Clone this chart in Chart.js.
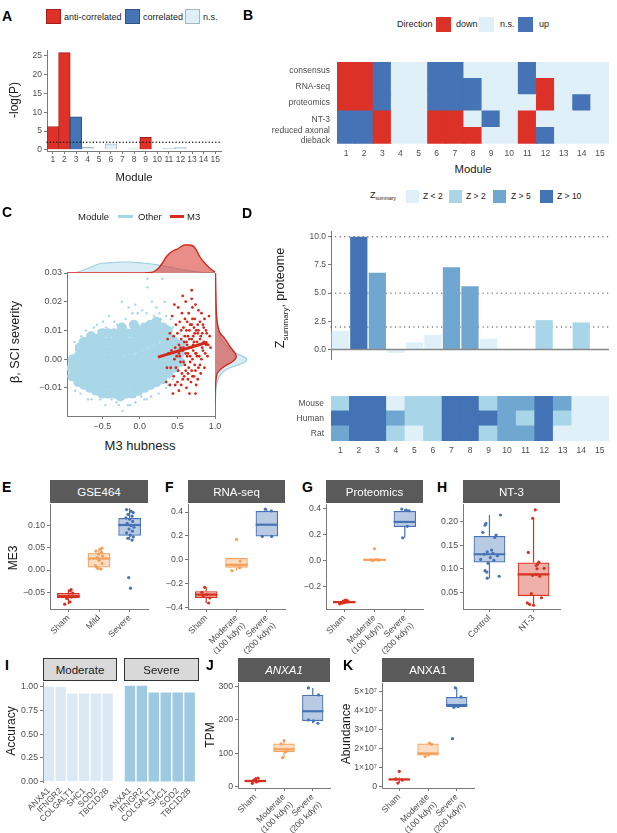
<!DOCTYPE html>
<html>
<head>
<meta charset="utf-8">
<script src="https://cdn.jsdelivr.net/npm/chart.js"></script>
<style>
body { margin: 0; background: #fff; }
#page { position: relative; width: 617px; height: 833px; overflow: hidden; font-family: 'Liberation Sans', Arial, sans-serif; }
#page canvas { position: absolute; }
.t { position: absolute; white-space: nowrap; line-height: 1; }
</style>
</head>
<body>
<div id="page"></div>
<script>
// ---------- data ----------
const modules = ['1','2','3','4','5','6','7','8','9','10','11','12','13','14','15'];

// A: -log(P) per module and direction of correlation
const aLogP = [6.2, 25.8, 8.8, 0.7, 0, 1.6, 0, 0.3, 3.3, 0, 0.5, 0.6, 0, 0, 0];
const aClass = ['anti','anti','corr','ns','ns','ns','ns','ns','anti','ns','ns','ns','ns','ns','ns'];
const aThreshold = 2;
const aTicks = [0, 5, 10, 15, 20, 25];

// B: direction heatmap
const bRowNames = ['consensus', 'RNA-seq', 'proteomics', 'NT-3', ['reduced axonal', 'dieback']];
const bConsensus  = ['down','down','up','ns','ns','up','up','ns','ns','ns','up','ns','ns','ns','ns'];
const bRnaSeq     = ['down','down','up','ns','ns','up','up','up','ns','ns','up','down','ns','ns','ns'];
const bProteomics = ['down','down','up','ns','ns','up','up','up','ns','ns','ns','down','ns','up','ns'];
const bNT3        = ['up','up','down','ns','ns','down','down','ns','up','ns','down','ns','ns','ns','ns'];
const bDieback    = ['up','up','down','ns','ns','down','down','down','ns','ns','down','up','ns','ns','ns'];

// C: M3 hubness vs beta (dense core of the "Other" cloud, its sparse edge, and M3 genes)
const cOtherCore = [
 [-0.90,-0.006],[-0.91,-0.003],[-0.89,0.000],
 [-0.82,-0.008],[-0.83,-0.005],[-0.81,-0.002],[-0.82,0.001],[-0.80,0.004],
 [-0.74,-0.009],[-0.75,-0.006],[-0.73,-0.003],[-0.74,0.000],[-0.72,0.003],[-0.75,0.006],
 [-0.66,-0.010],[-0.67,-0.007],[-0.65,-0.004],[-0.66,-0.001],[-0.64,0.002],[-0.67,0.005],[-0.65,0.008],
 [-0.58,-0.011],[-0.59,-0.008],[-0.57,-0.005],[-0.58,-0.002],[-0.56,0.001],[-0.59,0.004],[-0.57,0.007],
 [-0.50,-0.012],[-0.51,-0.009],[-0.49,-0.006],[-0.50,-0.003],[-0.48,0.000],[-0.51,0.003],[-0.49,0.006],[-0.50,0.009],
 [-0.42,-0.012],[-0.43,-0.009],[-0.41,-0.006],[-0.42,-0.003],[-0.40,0.000],[-0.43,0.003],[-0.41,0.006],[-0.42,0.009],
 [-0.34,-0.012],[-0.35,-0.009],[-0.33,-0.006],[-0.34,-0.003],[-0.32,0.000],[-0.35,0.003],[-0.33,0.006],[-0.34,0.009],
 [-0.26,-0.013],[-0.27,-0.010],[-0.25,-0.007],[-0.26,-0.004],[-0.24,-0.001],[-0.27,0.002],[-0.25,0.005],[-0.26,0.008],[-0.24,0.011],
 [-0.18,-0.012],[-0.19,-0.009],[-0.17,-0.006],[-0.18,-0.003],[-0.16,0.000],[-0.19,0.003],[-0.17,0.006],[-0.18,0.009],
 [-0.10,-0.012],[-0.11,-0.009],[-0.09,-0.006],[-0.10,-0.003],[-0.08,0.000],[-0.11,0.003],[-0.09,0.006],[-0.10,0.009],[-0.08,0.012],
 [-0.02,-0.011],[-0.03,-0.008],[-0.01,-0.005],[-0.02,-0.002],[0.00,0.001],[-0.03,0.004],[-0.01,0.007],[-0.02,0.010],
 [0.06,-0.010],[0.05,-0.007],[0.07,-0.004],[0.06,-0.001],[0.08,0.002],[0.05,0.005],[0.07,0.008],[0.06,0.011],
 [0.14,-0.009],[0.13,-0.006],[0.15,-0.003],[0.14,0.000],[0.16,0.003],[0.13,0.006],[0.15,0.009],[0.14,0.012],
 [0.22,-0.008],[0.21,-0.005],[0.23,-0.002],[0.22,0.001],[0.24,0.004],[0.21,0.007],[0.23,0.010],[0.22,0.013],
 [0.30,-0.007],[0.29,-0.004],[0.31,-0.001],[0.30,0.002],[0.32,0.005],[0.29,0.008],[0.31,0.011],
 [0.38,-0.005],[0.37,-0.002],[0.39,0.001],[0.38,0.004],[0.40,0.007],[0.37,0.010],
 [0.46,-0.003],[0.45,0.000],[0.47,0.003],[0.46,0.006],
 [0.54,-0.001],[0.53,0.002],[0.55,0.005]];
const cOtherHalo = [[-0.94,-0.001],[-0.93,-0.007],[-0.86,-0.011],[-0.87,0.006],[-0.78,0.008],[-0.79,-0.012],[-0.69,-0.014],
 [-0.72,0.010],[-0.64,-0.014],[-0.61,0.011],[-0.57,0.012],[-0.46,-0.016],[-0.49,0.013],[-0.41,0.015],[-0.31,-0.015],
 [-0.34,0.013],[-0.23,-0.018],[-0.24,0.020],[-0.28,-0.016],[-0.19,0.014],[-0.16,-0.016],[-0.13,-0.016],[-0.10,0.016],
 [-0.03,0.016],[-0.06,0.019],[-0.06,-0.015],[0.06,-0.014],[0.09,-0.014],[0.09,0.016],[0.10,0.025],[0.10,0.028],
 [0.22,0.018],[0.25,-0.012],[0.26,0.016],[0.30,0.028],[0.33,0.020],[0.35,0.015],[0.41,0.014],[0.44,0.011],[0.50,0.009],
 [0.58,0.008],[0.62,0.004],[0.66,0.007],[0.70,0.004],[0.72,0.009],[0.15,-0.013],[-0.38,-0.014],[0.03,0.017],
 [0.38,-0.009],[-0.53,-0.014],[0.16,0.020],[-0.15,0.018],[-0.70,-0.011],[-0.55,0.010],[0.19,0.015],[0.44,-0.007],
 [0.52,-0.004],[-0.85,0.003],[0.02,-0.013],[-0.30,0.012],[0.35,-0.010],[0.28,0.014],[-0.62,-0.012],[-0.45,0.011]];
const cM3 = [[0.36,-0.003],[0.38,0.002],[0.37,0.007],[0.40,-0.009],[0.41,-0.003],[0.42,0.003],[0.40,0.009],[0.43,0.015],[0.44,-0.012],
 [0.45,-0.006],[0.46,0.000],[0.47,0.004],[0.45,0.008],[0.48,0.012],[0.46,0.019],
 [0.50,-0.008],[0.51,-0.004],[0.49,0.001],[0.52,0.005],[0.50,0.009],[0.53,0.013],[0.51,0.018],[0.52,-0.011],
 [0.55,-0.009],[0.56,-0.005],[0.54,-0.001],[0.57,0.003],[0.55,0.007],[0.58,0.011],[0.56,0.016],[0.57,0.022],
 [0.59,-0.006],[0.60,-0.002],[0.61,0.002],[0.59,0.006],[0.62,0.010],[0.60,0.014],[0.61,0.020],[0.62,-0.010],
 [0.64,-0.007],[0.65,-0.003],[0.63,0.001],[0.66,0.004],[0.64,0.008],[0.67,0.012],[0.65,0.016],[0.66,-0.012],
 [0.68,-0.008],[0.69,-0.004],[0.70,0.000],[0.68,0.004],[0.71,0.008],[0.69,0.012],[0.70,0.018],[0.69,0.024],
 [0.72,-0.006],[0.73,-0.002],[0.74,0.002],[0.72,0.006],[0.75,0.010],[0.73,0.014],[0.74,0.019],[0.75,-0.009],
 [0.77,-0.007],[0.78,-0.003],[0.76,0.001],[0.79,0.005],[0.77,0.009],[0.80,0.013],[0.78,0.017],
 [0.81,-0.005],[0.82,0.000],[0.83,0.004],[0.81,0.008],[0.84,0.012],[0.82,0.016],
 [0.86,-0.003],[0.87,0.002],[0.85,0.006],[0.88,0.010],[0.86,0.014],[0.90,0.001],[0.91,0.005],[0.89,0.009],[0.92,0.015],
 [0.94,0.004],[0.93,0.008],[0.48,-0.003],[0.53,0.001],[0.58,-0.001],[0.63,0.005],[0.67,0.001],[0.71,0.003],[0.76,0.006],
 [0.79,0.001],[0.84,0.003],[0.54,0.004],[0.60,0.008],[0.66,0.007],[0.72,0.011],[0.78,0.010],[0.64,-0.005],[0.70,-0.006],
 [0.57,-0.007],[0.35,-0.008],[0.69,0.021],[0.74,-0.012],[0.62,0.006],[0.66,0.010],[0.71,0.005],[0.75,0.002],[0.80,0.007],
 [0.58,0.004],[0.61,-0.004],[0.67,-0.001],[0.73,0.009],[0.77,0.012],[0.83,0.009],[0.55,0.010],[0.63,0.013],[0.69,0.007],
 [0.74,-0.004],[0.80,-0.002],[0.52,0.002],[0.47,-0.009],[0.88,0.005],[0.85,0.011],[0.70,0.014],[0.64,0.002]];
const cFitX = [0.24, 0.90];
const cFitY = [0.0007, 0.0059];
// marginal densities (relative heights)
const cTopX     = [-0.97,-0.85,-0.75,-0.65,-0.55,-0.45,-0.35,-0.25,-0.15,-0.05,0.05,0.15,0.2,0.25,0.3,0.35,0.4,0.45,0.5,0.55,0.6,0.65,0.7,0.75,0.8,0.85,0.9,0.95,1.0];
const cTopOther = [0,0.5,3,6,9,10,10.5,11,11,10.5,10,9,8.5,8,7.2,6.5,5.8,5,4.2,3.5,2.8,2.2,1.7,1.3,0.9,0.6,0.4,0.3,0.2];
const cTopM3    = [0,0,0,0,0,0,0,0,0,0,0,0.5,2,5,10,16,20,22.5,24,26.5,28,28,27.5,23,16,11,7,3.5,1];
const cSideB     = [-0.0198,-0.015,-0.012,-0.01,-0.008,-0.006,-0.005,-0.004,-0.003,-0.002,-0.001,0,0.001,0.002,0.003,0.005,0.007,0.009,0.011,0.015,0.02,0.025,0.03];
const cSideOther = [0,0.3,0.7,1,2,4,6,9,14,22,28,30,26,20,16,10,6,4,3,1.2,0.5,0.2,0];
const cSideM3    = [0,0.1,0.2,0.4,0.7,1.4,2,4,7,11,16,19,20,19,17,13,9.5,5,3,1.5,1,0.7,0.5];

// D: Z summary bars and species heatmap (0: Z<2, 1: Z>2, 2: Z>5, 3: Z>10)
const dZ      = [1.65, 10.0, 6.8, -0.3, 0.65, 1.3, 7.3, 5.6, 0.95, 0, 0, 2.6, 0, 2.4, 0];
const dZLevel = [0, 3, 2, 0, 0, 0, 2, 2, 0, 0, 0, 1, 0, 1, 0];
const dRefLines = [2, 5, 10];
const dTicks = [0, 2.5, 5, 7.5, 10];
const dSpecies = ['Mouse', 'Human', 'Rat'];
const dMouse = [1,3,3,0,1,1,3,3,1,2,2,3,2,0,0];
const dHuman = [3,3,3,2,1,1,3,3,3,2,1,3,1,0,0];
const dRat   = [2,3,3,1,0,1,3,3,1,2,2,3,0,0,0];

// E-H, J, K boxplots: whisker low, q1, median, q3, whisker high, jittered points [offset, value]
const injury3 = ['Sham', ['Moderate', '(100 kdyn)'], ['Severe', '(200 kdyn)']];
const eCats = ['Sham', 'Mild', 'Severe'];
const eLo = [-0.077, 0.002, 0.068], eQ1 = [-0.0635, 0.006, 0.0776], eMed = [-0.059, 0.026, 0.102], eQ3 = [-0.052, 0.0395, 0.118], eHi = [-0.044, 0.050, 0.140];
const ePts = [
  [[-0.12,-0.077],[0.05,-0.072],[-0.05,-0.064],[0.10,-0.061],[0.02,-0.058],[0.14,-0.052],[0.06,-0.047],[0.09,-0.044],[-0.08,-0.060]],
  [[0.10,0.050],[0.05,0.047],[-0.10,0.043],[0.08,0.040],[-0.02,0.036],[0.12,0.032],[-0.06,0.028],[0.00,0.022],[0.10,0.015],[-0.12,0.010],[-0.04,0.004],[0.06,0.002],[-0.08,0.007]],
  [[-0.10,0.137],[0.05,0.133],[0.12,0.130],[-0.05,0.126],[0.08,0.122],[-0.12,0.118],[0.00,0.115],[0.10,0.110],[-0.08,0.106],[0.04,0.101],[0.14,0.097],[-0.02,0.093],[0.09,0.088],[-0.10,0.084],[0.02,0.079],[0.12,0.075],[-0.06,0.072],[0.08,0.068],[-0.03,-0.017],[0.03,-0.041]]
];
const eTicks = [-0.05, 0, 0.05, 0.10], eTickLabels = ['\u22120.05', '0.00', '0.05', '0.10'];

const fLo = [-0.36, -0.09, 0.196], fQ1 = [-0.318, -0.065, 0.196], fMed = [-0.29, -0.041, 0.294], fQ3 = [-0.261, 0.016, 0.408], fHi = [-0.229, 0.016, 0.424];
const fPts = [
  [[-0.05,-0.229],[0.08,-0.36],[-0.10,-0.30],[0.12,-0.318],[0.02,-0.29],[-0.14,-0.27]],
  [[0.00,0.171],[-0.15,-0.09],[0.10,-0.065],[-0.05,-0.045],[0.12,-0.01]],
  [[-0.05,0.424],[0.15,0.41],[-0.15,0.196],[0.16,0.196]]
];
const fTicks = [-0.4, -0.2, 0, 0.2, 0.4], fTickLabels = ['\u22120.4', '\u22120.2', '0.0', '0.2', '0.4'];

const gLo = [-0.336, -0.004, 0.172], gQ1 = [-0.33, -0.002, 0.255], gMed = [-0.322, 0.003, 0.294], gQ3 = [-0.312, 0.01, 0.377], gHi = [-0.305, 0.012, 0.393];
const gPts = [
  [[-0.15,-0.335],[-0.08,-0.33],[0.00,-0.327],[0.07,-0.322],[0.13,-0.318],[-0.03,-0.314],[0.10,-0.31],[0.04,-0.306]],
  [[0.00,0.088],[-0.12,0.002],[0.06,0.005],[0.14,0.0],[-0.05,-0.003]],
  [[-0.10,0.393],[0.05,0.385],[0.14,0.38],[0.08,0.26],[-0.07,0.172]]
];
const gTicks = [-0.2, 0, 0.2, 0.4], gTickLabels = ['\u22120.2', '0.0', '0.2', '0.4'];

const hCats = ['Control', 'NT-3'];
const hLo = [0.080, 0.022], hQ1 = [0.1135, 0.042], hMed = [0.131, 0.088], hQ3 = [0.170, 0.1135], hHi = [0.2148, 0.208];
const hPts = [
  [[0.25,0.215],[-0.08,0.197],[-0.10,0.193],[0.15,0.172],[0.12,0.167],[-0.15,0.178],[0.05,0.14],[-0.05,0.136],[0.08,0.133],[-0.12,0.131],[0.18,0.128],[0.02,0.124],[-0.20,0.12],[0.10,0.118],[-0.03,0.112],[-0.10,0.096],[-0.06,0.093],[0.22,0.084],[-0.05,0.08]],
  [[0.04,0.226],[-0.02,0.208],[-0.12,0.135],[0.12,0.114],[0.09,0.11],[0.06,0.107],[0.24,0.101],[-0.02,0.086],[0.06,0.088],[0.14,0.084],[-0.05,0.047],[0.18,0.038],[-0.14,0.027],[-0.09,0.024],[0.00,0.022],[0.08,0.10]]
];
const hTicks = [0.05, 0.10, 0.15, 0.20], hTickLabels = ['0.05', '0.10', '0.15', '0.20'];

const jLo = [10, 87, 190], jQ1 = [13, 103, 197], jMed = [17, 112, 226], jQ3 = [21, 129, 275], jHi = [26, 138, 296];
const jPts = [
  [[-0.10,10],[0.05,14],[0.12,17],[-0.05,20],[0.02,24],[0.10,26]],
  [[0.00,138],[-0.05,87],[0.10,112],[-0.10,128],[0.05,104]],
  [[-0.15,296],[0.20,275],[-0.15,200],[0.02,197],[0.18,190]]
];
const jTicks = [0, 100, 200, 300], jTickLabels = ['0', '100', '200', '300'];

const kLo = [0.16e7, 1.55e7, 4.15e7], kQ1 = [0.31e7, 1.61e7, 4.17e7], kMed = [0.35e7, 1.72e7, 4.27e7], kQ3 = [0.40e7, 2.24e7, 4.69e7], kHi = [0.45e7, 2.27e7, 5.18e7];
const kPts = [
  [[0.00,0.78e7],[-0.05,0.16e7],[0.10,0.32e7],[-0.12,0.38e7]],
  [[0.05,2.27e7],[0.12,2.2e7],[-0.10,1.56e7],[0.02,1.68e7]],
  [[-0.05,5.18e7],[0.15,4.7e7],[0.05,4.2e7],[-0.10,4.15e7],[-0.15,2.5e7]]
];
const kTicks = [0, 1e7, 2e7, 3e7, 4e7, 5e7];
const kTickLabels = ['0', '1\u00d710\u2077', '2\u00d710\u2077', '3\u00d710\u2077', '4\u00d710\u2077', '5\u00d710\u2077'];

// I: classifier accuracy
const iGenes = ['ANXA1', 'IFNGR2', 'COLGALT1', 'SHC1', 'SOD2', 'TBC1D2B'];
const iModerate = [1.0, 1.0, 0.93, 0.93, 0.93, 0.93];
const iSevere   = [1.0, 1.0, 0.93, 0.93, 0.93, 0.93];
const iTicks = [0, 0.25, 0.5, 0.75, 1], iTickLabels = ['0.00', '0.25', '0.50', '0.75', '1.00'];

// ---------- styling ----------
const AXIS = '#7a7a7a';
const RED = '#d7301f';
const aFill = {anti: '#e03129', corr: '#4575b4', ns: '#deeff8'};
const aLine = {anti: '#a81d17', corr: '#2b5288', ns: '#a7b7c2'};
const dirColor = {down: '#dc3127', ns: '#dff0f8', up: '#4673b5'};
const zPalette = ['#e0f0f8', '#a8d5e7', '#6fa7d0', '#4372b5'];
const BOX = {
  red:    {line: '#d7301f', fill: 'rgba(215,48,31,0.38)'},
  orange: {line: '#f5a05a', fill: 'rgba(248,165,95,0.38)'},
  blue:   {line: '#4673b5', fill: 'rgba(70,115,181,0.38)'}
};

Chart.defaults.font.family = "'Liberation Sans', Arial, sans-serif";
Chart.defaults.font.size = 8.5;
Chart.defaults.color = '#4d4d4d';
Chart.defaults.animation = false;
Chart.defaults.plugins.legend.display = false;
Chart.defaults.plugins.tooltip.enabled = false;

const page = document.getElementById('page');

// area = chart area in page pixels, pad = room for axes [left, top, right, bottom]
function place(area, pad, config) {
  const [x0, y0, x1, y1] = area;
  const [l, t, r, b] = pad;
  const W = x1 - x0 + l + r, H = y1 - y0 + t + b;
  const c = document.createElement('canvas');
  c.width = W; c.height = H;
  c.style.left = (x0 - l) + 'px'; c.style.top = (y0 - t) + 'px';
  c.style.width = W + 'px'; c.style.height = H + 'px';
  page.appendChild(c);
  const o = config.options = config.options || {};
  o.responsive = false;
  const padding = {left: 0, top: t, right: r, bottom: 0};
  let hasX = false, hasY = false;
  for (const [k, s] of Object.entries(o.scales || {})) {
    if (s.display === false) continue;
    if (k[0] === 'x') { hasX = true; s.afterFit = sc => { sc.height = b; }; }
    else { hasY = true; s.afterFit = sc => { sc.width = l; }; }
  }
  if (!hasX) padding.bottom = b;
  if (!hasY) padding.left = l;
  o.layout = {padding, autoPadding: false};
  return new Chart(c, config);
}

function valueAxis(min, max, ticks, labels, size, tickExtra = {}) {
  return {
    type: 'linear', min, max,
    border: {display: true, color: AXIS, width: 1},
    grid: {display: true, drawOnChartArea: false, tickLength: 3, color: AXIS, offset: false},
    afterBuildTicks: s => { s.ticks = ticks.map(v => ({value: v})); },
    ticks: Object.assign({padding: 2, autoSkip: false, font: {size}, color: '#4d4d4d', callback: (v, i) => labels[i]}, tickExtra)
  };
}

function refLines(lines) {
  const draw = (chart, top) => {
    const {ctx, chartArea: a, scales: {y}} = chart;
    lines.filter(L => !!L.top === top).forEach(L => {
      const py = y.getPixelForValue(L.value);
      ctx.save();
      ctx.strokeStyle = L.color; ctx.lineWidth = L.width;
      ctx.setLineDash(L.dash || []);
      ctx.lineCap = L.dash ? 'round' : 'butt';
      ctx.beginPath(); ctx.moveTo(a.left, py); ctx.lineTo(a.right, py); ctx.stroke();
      ctx.restore();
    });
  };
  return {id: 'refLines', beforeDatasetsDraw: c => draw(c, false), afterDatasetsDraw: c => draw(c, true)};
}

// whiskers and medians on top of the floating box bars
const boxExtras = {
  id: 'boxExtras',
  afterDatasetDraw(chart, args) {
    const ds = chart.data.datasets[args.index];
    if (!ds.whiskers) return;
    const {ctx} = chart, y = chart.scales.y;
    args.meta.data.forEach((bar, i) => {
      const [lo, hi] = ds.whiskers[i];
      const [q1, q3] = ds.data[i].y;
      ctx.save();
      ctx.strokeStyle = ds.borderColor[i];
      ctx.lineWidth = 1.2;
      ctx.beginPath();
      ctx.moveTo(bar.x, y.getPixelForValue(hi)); ctx.lineTo(bar.x, y.getPixelForValue(q3));
      ctx.moveTo(bar.x, y.getPixelForValue(q1)); ctx.lineTo(bar.x, y.getPixelForValue(lo));
      ctx.stroke();
      const m = y.getPixelForValue(ds.medians[i]);
      ctx.lineWidth = 2.2;
      ctx.beginPath();
      ctx.moveTo(bar.x - bar.width / 2, m); ctx.lineTo(bar.x + bar.width / 2, m);
      ctx.stroke();
      ctx.restore();
    });
  }
};

function boxPanel(area, pad, cats, lo, q1, med, q3, hi, pts, cols, yMin, yMax, yTicks, yLabels, bw) {
  const n = cats.length;
  const pointData = [], pointCol = [];
  pts.forEach((grp, i) => grp.forEach(([dx, v]) => { pointData.push({x: i + dx, y: v}); pointCol.push(BOX[cols[i]].line); }));
  const xAxis = valueAxis(-0.6, n - 0.4, cats.map((_, i) => i), cats, 8.7, {minRotation: 45, maxRotation: 45, padding: 1});
  xAxis.offset = false;
  return place(area, pad, {
    type: 'bar',
    data: {datasets: [
      {type: 'scatter', data: pointData, pointRadius: 1.6, pointBackgroundColor: pointCol, pointBorderWidth: 0, order: 0, clip: 4},
      {data: q1.map((v, i) => ({x: i, y: [v, q3[i]]})),
       backgroundColor: cols.map(c => BOX[c].fill), borderColor: cols.map(c => BOX[c].line),
       borderWidth: 1.2, borderSkipped: false, barPercentage: bw || 0.74, categoryPercentage: 1,
       whiskers: lo.map((v, i) => [v, hi[i]]), medians: med, order: 1}
    ]},
    options: {scales: {x: xAxis, y: valueAxis(yMin, yMax, yTicks, yLabels, 8.7)}},
    plugins: [boxExtras]
  });
}

function heatmap(area, pad, rowNames, rows, colorOf) {
  const n = rows.length;
  return place(area, pad, {
    type: 'bar',
    data: {labels: modules, datasets: rows.slice().reverse().map(r => ({
      data: r.map(() => 1), backgroundColor: r.map(colorOf), borderWidth: 0,
      barPercentage: 1, categoryPercentage: 1, inflateAmount: 0.5}))},
    options: {scales: {
      x: {stacked: true, border: {display: false}, grid: {display: false, drawTicks: false}, ticks: {padding: 5, autoSkip: false, font: {size: 8.5}}},
      y: {stacked: true, min: 0, max: n, border: {display: false}, grid: {display: false, drawTicks: false},
          afterBuildTicks: s => { s.ticks = rowNames.map((_, i) => ({value: i + 0.5})); },
          ticks: {padding: 7, autoSkip: false, font: {size: 8.5}, callback: v => rowNames[n - 1 - Math.floor(v)]}}
    }}
  });
}

// ---------- panel A ----------
place([47, 50, 221, 151], [30, 8, 6, 16], {
  type: 'bar',
  data: {labels: modules, datasets: [{
    data: aLogP, backgroundColor: aClass.map(k => aFill[k]), borderColor: aClass.map(k => aLine[k]),
    borderWidth: 1, barPercentage: 1, categoryPercentage: 1
  }]},
  options: {scales: {
    x: {border: {color: AXIS}, grid: {offset: false, drawOnChartArea: false, tickLength: 3, color: AXIS},
        ticks: {padding: 1, autoSkip: false, maxRotation: 0, font: {size: 8.5}}},
    y: valueAxis(-0.3, 26.5, aTicks, aTicks.map(String), 8.5)
  }},
  plugins: [refLines([{value: aThreshold, color: '#111', width: 1.5, dash: [0.01, 3.3], top: true}])]
});

// ---------- panel B ----------
heatmap([337, 55, 609, 145], [110, 5, 6, 16], bRowNames,
  [bConsensus, bRnaSeq, bProteomics, bNT3, bDieback], k => dirColor[k]);

// ---------- panel C ----------
const pair = ([x, y]) => ({x, y});
place([67, 273, 215, 416], [35, 8, 10, 18], {
  type: 'scatter',
  data: {datasets: [
    {type: 'line', data: cFitX.map((x, i) => ({x, y: cFitY[i]})), borderColor: '#d22a1c', borderWidth: 3, pointRadius: 0, order: 0},
    {data: cM3.map(pair), pointRadius: 1.4, backgroundColor: '#d42a1e', pointBorderWidth: 0, order: 1},
    {data: cOtherHalo.map(pair), pointRadius: 1.2, backgroundColor: '#a9d7e7', pointBorderWidth: 0, order: 2},
    {data: cOtherCore.map(pair), pointRadius: 5, backgroundColor: '#a9d7e7', pointBorderWidth: 0, order: 3}
  ]},
  options: {scales: {
    x: valueAxis(-0.97, 1.0, [-0.5, 0, 0.5, 1.0], ['\u22120.5', '0.0', '0.5', '1.0'], 9),
    y: valueAxis(-0.0198, 0.03, [-0.01, 0, 0.01, 0.02, 0.03], ['\u22120.01', '0.00', '0.01', '0.02', '0.03'], 9)
  }}
});
// top marginal density
place([67, 240, 215, 273], [0, 0, 0, 0], {
  type: 'line',
  data: {datasets: [
    {data: cTopX.map((x, i) => ({x, y: cTopOther[i]})), borderColor: '#9fd0e3', borderWidth: 1.2,
     backgroundColor: 'rgba(166,213,230,0.45)', fill: 'origin', pointRadius: 0, cubicInterpolationMode: 'monotone', clip: 4, order: 1},
    {data: cTopX.map((x, i) => ({x, y: cTopM3[i]})), borderColor: '#d42a1e', borderWidth: 1.4,
     backgroundColor: 'rgba(214,48,39,0.55)', fill: 'origin', pointRadius: 0, cubicInterpolationMode: 'monotone', clip: 4, order: 0}
  ]},
  options: {scales: {x: {type: 'linear', min: -0.97, max: 1.0, display: false}, y: {min: 0, max: 33, display: false}}}
});
// right marginal density
place([215, 273, 250, 416], [0, 0, 0, 0], {
  type: 'line',
  data: {datasets: [
    {data: cSideB.map((b, i) => ({x: cSideOther[i], y: b})), borderColor: '#9fd0e3', borderWidth: 1.2,
     backgroundColor: 'rgba(166,213,230,0.45)', fill: 'origin', pointRadius: 0, cubicInterpolationMode: 'monotone', clip: 4, order: 1},
    {data: cSideB.map((b, i) => ({x: cSideM3[i], y: b})), borderColor: '#d42a1e', borderWidth: 1.4,
     backgroundColor: 'rgba(214,48,39,0.55)', fill: 'origin', pointRadius: 0, cubicInterpolationMode: 'monotone', clip: 4, order: 0}
  ]},
  options: {indexAxis: 'y', scales: {x: {type: 'linear', min: 0, max: 33, display: false}, y: {type: 'linear', min: -0.0198, max: 0.03, display: false}}}
});

// ---------- panel D ----------
place([331, 230, 609, 367], [32, 6, 6, 0], {
  type: 'bar',
  data: {labels: modules, datasets: [{data: dZ, backgroundColor: dZLevel.map(l => zPalette[l]), borderWidth: 0, barPercentage: 0.93, categoryPercentage: 1}]},
  options: {scales: {
    x: {display: false},
    y: valueAxis(-0.92, 10.5, dTicks, dTicks.map(v => v.toFixed(1)), 8.5)
  }},
  plugins: [refLines(dRefLines.map(v => ({value: v, color: '#666', width: 1.4, dash: [0.01, 4.6]}))
    .concat([{value: 0, color: '#888', width: 1.5, top: true}]))]
});
heatmap([331, 386, 609, 441], [60, 2, 6, 16], dSpecies, [dMouse, dHuman, dRat], l => zPalette[l]);

// ---------- panels E-H ----------
const rob = ['red', 'orange', 'blue'];
boxPanel([50, 503, 148, 609], [36, 6, 4, 42], eCats, eLo, eQ1, eMed, eQ3, eHi, ePts, rob, -0.088, 0.149, eTicks, eTickLabels);
boxPanel([188, 503, 285, 609], [32, 6, 4, 45], injury3, fLo, fQ1, fMed, fQ3, fHi, fPts, rob, -0.41, 0.465, fTicks, fTickLabels);
boxPanel([326, 503, 423, 609], [32, 6, 4, 45], injury3, gLo, gQ1, gMed, gQ3, gHi, gPts, rob, -0.375, 0.43, gTicks, gTickLabels);
boxPanel([463, 503, 560, 609], [34, 6, 4, 42], hCats, hLo, hQ1, hMed, hQ3, hHi, hPts, ['blue', 'red'], 0.014, 0.238, hTicks, hTickLabels, 0.72);

// ---------- panel I ----------
function accuracyPanel(area, pad, values, color, showY) {
  return place(area, pad, {
    type: 'bar',
    data: {labels: iGenes, datasets: [{data: values, backgroundColor: color, borderWidth: 0, barPercentage: 0.88, categoryPercentage: 1}]},
    options: {scales: {
      x: {border: {display: false}, grid: {display: false, drawTicks: false}, ticks: {padding: 4, autoSkip: false, minRotation: 45, maxRotation: 45, font: {size: 8.5}}},
      y: showY ? valueAxis(-0.005, 1.05, iTicks, iTickLabels, 8.7) : {display: false, min: -0.005, max: 1.05}
    }}
  });
}
accuracyPanel([43, 681, 117, 782], [30, 6, 2, 48], iModerate, '#dbe9f5', true);
accuracyPanel([124, 681, 199, 782], [34, 6, 2, 48], iSevere, '#9ecae1', false);

// ---------- panels J, K ----------
boxPanel([238, 682, 330, 788], [28, 6, 4, 45], injury3, jLo, jQ1, jMed, jQ3, jHi, jPts, rob, -4, 310, jTicks, jTickLabels);
boxPanel([382, 682, 474, 788], [34, 6, 4, 45], injury3, kLo, kQ1, kMed, kQ3, kHi, kPts, rob, -0.1e7, 5.42e7, kTicks, kTickLabels);

// ---------- text, legends, strips ----------
function txt(s, x, y, o = {}) {
  const d = document.createElement('div');
  d.className = 't';
  d.innerHTML = s;
  const ax = {left: '0', center: '-50%', right: '-100%'}[o.align || 'left'];
  d.style.left = x + 'px'; d.style.top = y + 'px';
  d.style.fontSize = (o.size || 9) + 'px';
  d.style.fontWeight = o.weight || 'normal';
  d.style.fontStyle = o.style || 'normal';
  d.style.color = o.color || '#1a1a1a';
  d.style.transform = `translate(${ax}, -50%)` + (o.rot ? ` rotate(${o.rot}deg)` : '');
  page.appendChild(d);
}
function rect(x, y, w, h, fill, border) {
  const d = document.createElement('div');
  d.style.cssText = `position:absolute;left:${x}px;top:${y}px;width:${w}px;height:${h}px;box-sizing:border-box;background:${fill};` +
    (border ? `border:1px solid ${border};` : '');
  page.appendChild(d);
}
function strip(x0, y0, x1, y1, label, light, italic) {
  const d = document.createElement('div');
  d.style.cssText = `position:absolute;left:${x0}px;top:${y0}px;width:${x1 - x0}px;height:${y1 - y0}px;box-sizing:border-box;` +
    (light ? 'background:#d9d9d9;border:1px solid #333;color:#1a1a1a;' : 'background:#5a5a5a;color:#fff;') +
    'display:flex;align-items:center;justify-content:center;font-size:11.5px;' + (italic ? 'font-style:italic;' : '');
  d.textContent = label;
  page.appendChild(d);
}

const letter = (s, x, y) => txt(s, x, y, {size: 14, weight: 'bold', color: '#000'});
letter('A', 2, 16); letter('B', 243, 15); letter('C', 2, 212); letter('D', 242, 213);
letter('E', 2, 487); letter('F', 165, 487); letter('G', 302, 487); letter('H', 437, 487);
letter('I', 5, 665); letter('J', 206, 665); letter('K', 343, 665);

// A legend and titles
rect(46, 9, 15, 15, aFill.anti, aLine.anti); txt('anti-correlated', 64, 17);
rect(125, 9, 15, 15, aFill.corr, aLine.corr); txt('correlated', 143, 17);
rect(185, 9, 15, 15, aFill.ns, aLine.ns); txt('n.s.', 203, 17);
txt('-log(P)', 14, 100, {size: 12, align: 'center', rot: -90});
txt('Module', 134, 178, {size: 11.3, align: 'center'});

// B legend and title
txt('Direction', 397, 24);
rect(436, 17, 15, 15, dirColor.down); txt('down', 456, 24);
rect(479, 17, 15, 15, dirColor.ns); txt('n.s.', 500, 24);
rect(518, 17, 15, 15, dirColor.up); txt('up', 539, 24);
txt('Module', 473, 170, {size: 11.3, align: 'center'});

// C legend and titles
txt('Module', 78, 217, {size: 9.5});
rect(118, 215, 15, 3, '#a6d5e6'); txt('Other', 138, 217, {size: 9.5});
rect(170, 215, 14, 3, RED); txt('M3', 187, 217, {size: 9.5});
txt('\u03b2, SCI severity', 15, 342, {size: 12.6, align: 'center', rot: -90});
txt('M3 hubness', 140, 445, {size: 13, align: 'center'});

// D legend and title
txt('Z<sub style="font-size:5px">summary</sub>', 370, 196, {size: 9});
rect(406, 190, 13, 13, zPalette[0]); txt('Z &lt; 2', 423, 196, {size: 8.5});
rect(449, 190, 13, 13, zPalette[1]); txt('Z &gt; 2', 466, 196, {size: 8.5});
rect(493, 190, 13, 13, zPalette[2]); txt('Z &gt; 5', 511, 196, {size: 8.5});
rect(540, 190, 13, 13, zPalette[3]); txt('Z &gt; 10', 557, 196, {size: 8.5});
txt('Z<sub style="font-size:8px">summary</sub>, proteome', 282, 298, {size: 12.5, align: 'center', rot: -90});

// E-K strips and titles
strip(50, 480, 148, 503, 'GSE464');
strip(188, 480, 285, 503, 'RNA-seq');
strip(326, 480, 423, 503, 'Proteomics');
strip(463, 480, 560, 503, 'NT-3');
txt('ME3', 13, 558, {size: 12, align: 'center', rot: -90});
strip(43, 658, 117, 681, 'Moderate', true);
strip(124, 658, 199, 681, 'Severe', true);
strip(238, 658, 330, 682, 'ANXA1', false, true);
strip(382, 658, 474, 682, 'ANXA1');
txt('Accuracy', 11, 731, {size: 12, align: 'center', rot: -90});
txt('TPM', 210, 735, {size: 12, align: 'center', rot: -90});
txt('Abundance', 346, 734, {size: 12, align: 'center', rot: -90});
</script>
</body>
</html>
